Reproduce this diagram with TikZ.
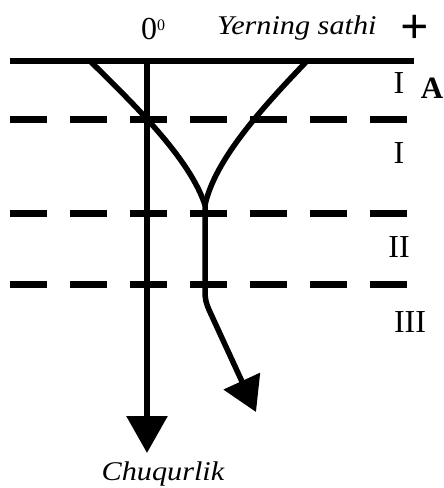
\documentclass[tikz,border=0pt]{standalone}
\usepackage{fontspec}
\setmainfont{Liberation Serif}
\newfontfamily\wideserif[FakeStretch=1.12]{Liberation Serif}
\usetikzlibrary{arrows.meta}
\tikzset{
  thickline/.style={line width=6pt, line cap=butt},
  curveline/.style={line width=5.5pt},
  dashline/.style={line width=7pt, dash pattern=on 37pt off 23pt},
  lbl/.style={inner sep=0pt, font=\fontsize{32}{34}\selectfont},
  itlbl/.style={inner sep=0pt, font=\fontsize{27}{30}\selectfont\wideserif\itshape},
}
\begin{document}
\begin{tikzpicture}[x=1pt,y=-1pt]
\useasboundingbox (0,0) rectangle (444,488);
% coordinates
\coordinate (TL) at (10,61);
\coordinate (TR) at (414,61);
\coordinate (O) at (147,61);
\coordinate (Obot) at (147,453);
\coordinate (LS) at (90,61);
\coordinate (RS) at (307,61);
\coordinate (M) at (205,205);
\coordinate (K) at (205,290);
\coordinate (K2) at (210,312);
\coordinate (T) at (256,412);
\coordinate (D1a) at (10,119); \coordinate (D1b) at (407,119);
\coordinate (D2a) at (10,213); \coordinate (D2b) at (407,213);
\coordinate (D3a) at (10,284); \coordinate (D3b) at (407,284);
% dashed boundaries
\draw[dashline] (D1a) -- (D1b);
\draw[dashline] (D2a) -- (D2b);
\draw[dashline] (D3a) -- (D3b);
% surface line
\draw[thickline] (TL) -- (TR);
% vertical axis
\draw[thickline, -{Triangle[length=37pt,width=40pt]}] (O) -- (Obot);
% curves
\draw[curveline] (LS) .. controls (140,110) and (190,160) .. (M);
\draw[curveline] (RS) .. controls (260,110) and (215,160) .. (M);
\draw[curveline, -{Triangle[length=34pt,width=39pt]}] (M) -- (K) .. controls (205,300) and (206,303) .. (K2) -- (T);
% labels
\node[lbl, anchor=base west] (zero) at (141,39) {0\raisebox{9pt}{\fontsize{16}{16}\selectfont 0}};
\node[itlbl, anchor=base west] (surf) at (217,34) {Yerning sathi};
\node[inner sep=0pt, font=\fontsize{50}{50}\selectfont\bfseries] (plus) at (415,29) {+};
\node[lbl, anchor=base] (r1) at (399,93) {I};
\node[inner sep=0pt, font=\fontsize{31}{33}\selectfont\bfseries, anchor=base] (A) at (432,98) {A};
\node[lbl, anchor=base] (r2) at (399,163) {I};
\node[lbl, anchor=base] (r3) at (399,257) {II};
\node[lbl, anchor=base] (r4) at (410,332) {III};
\node[itlbl, anchor=base] (depth) at (163,480) {Chuqurlik};
\end{tikzpicture}
\end{document}
